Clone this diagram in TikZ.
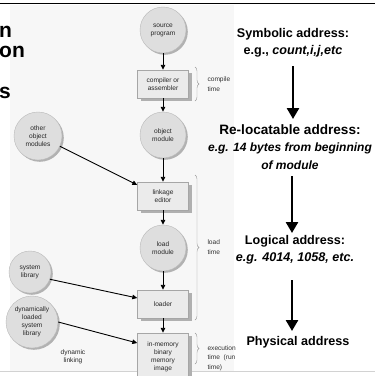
\documentclass[tikz,border=0pt]{standalone}
\usepackage{fontspec}
\setmainfont{Liberation Sans}
\usetikzlibrary{arrows.meta,decorations.pathreplacing,shadows}

\begin{document}
\begin{tikzpicture}[x=1pt,y=-1pt,
  lbl/.style={font=\fontsize{6.6}{8}\selectfont, text=black!85, align=center},
  disc/.style={circle, draw=gray!55, fill=gray!26, minimum size=46pt, inner sep=0pt,
    lbl, general shadow={fill=gray!60, shadow xshift=1.8pt, shadow yshift=-1.8pt}},
  stepbox/.style={rectangle, draw=gray!70, fill=gray!16, minimum width=51pt, minimum height=28pt,
    inner sep=1pt, lbl, general shadow={fill=gray!62, shadow xshift=3pt, shadow yshift=-3pt}},
  flow/.style={-{Triangle[length=5pt,width=4.5pt]}, line width=0.9pt},
  bigflow/.style={-{Triangle[length=11pt,width=12pt]}, line width=2.6pt},
  period/.style={decorate, decoration={brace, amplitude=4pt}, draw=gray!80, line width=0.4pt},
  note/.style={font=\fontsize{6.6}{9.5}\selectfont, text=black!80, align=left, anchor=west},
  head/.style={font=\bfseries\fontsize{12.6}{17.2}\selectfont, align=center},
  title/.style={font=\bfseries\fontsize{21}{22}\selectfont, anchor=base west, inner sep=0pt}]
\useasboundingbox (0,0) rectangle (375,376);
\clip (0,0) rectangle (375,376);

% panel behind the flow chart
\fill[gray!6] (10,5) rectangle (234,371);
\draw[black, line width=0.8pt] (0,3) -- (375,3);
\draw[gray!35, line width=1pt] (0,371) -- (375,371);

% cut-off heading on the left
\node[title] (t1) at (-1,37) {n};
\node[title] (t2) at (-1,57) {on};
\node[title] (t3) at (-1,98) {s};

% main chain
\node[disc] (src) at (163,30) {source\\program};
\node[stepbox] (comp) at (163,84) {compiler or\\assembler};
\node[disc] (obj) at (163,135) {object\\module};
\node[stepbox] (link) at (163,196) {linkage\\editor};
\node[disc] (load) at (163,248) {load\\module};
\node[stepbox] (loader) at (163,304) {loader};
\node[stepbox, minimum height=48pt] (mem) at (163,357) {in-memory\\binary\\memory\\image};

% side inputs
\node[disc, minimum size=48pt] (oth) at (38,136) {other\\object\\modules};
\node[disc, minimum size=42pt] (sys) at (30,272) {system\\library};
\node[disc, minimum size=52pt] (dyn) at (32,322) {dynamically\\loaded\\system\\library};
\node[lbl] (dl) at (73,357) {dynamic\\linking};

\draw[flow] (src) -- (comp);
\draw[flow] (comp) -- (obj);
\draw[flow] (obj) -- (link);
\draw[flow] (link) -- (load);
\draw[flow] (load) -- (loader);
\draw[flow] (loader) -- (mem);
\draw[flow] (oth.-25) -- ([yshift=11pt]link.west);
\draw[flow] (sys.-20) -- ([yshift=6pt]loader.west);
\draw[flow] (dyn.east) -- ([yshift=14pt]mem.west);

% time braces
\draw[period] (195,67) coordinate (c1) -- (195,101) coordinate (c2);
\node[note] (ct) at (204,84) {compile\\time};
\draw[period] (195,175) coordinate (l1) -- (195,320) coordinate (l2);
\node[note] (lt) at (204,247) {load\\time};
\draw[period] (195,333) coordinate (e1) -- (195,364) coordinate (e2);
\node[note] (et) at (204,358) {execution\\time\ \ (run\\time)};

% address kinds
\node[head] (sa) at (293,43) {Symbolic address:\\e.g., \textit{count,i,j,etc}};
\node[head, font=\bfseries\fontsize{12}{17.2}\selectfont] (ra) at (290,147)
  {{\fontsize{13.6}{17.2}\selectfont Re-locatable address:}\\\textit{e.g. 14 bytes from beginning}\\\textit{of module}};
\node[head] (la) at (295,250) {Logical address:\\\textit{e.g. 4014, 1058, etc.}};
\node[head] (pa) at (298,342) {Physical address};

\draw[bigflow] (293,66) coordinate (a1) -- (293,119) coordinate (a2);
\draw[bigflow] (292,176) coordinate (b1) -- (292,233) coordinate (b2);
\draw[bigflow] (292,280) coordinate (d1) -- (292,331) coordinate (d2);
\end{tikzpicture}
\end{document}
